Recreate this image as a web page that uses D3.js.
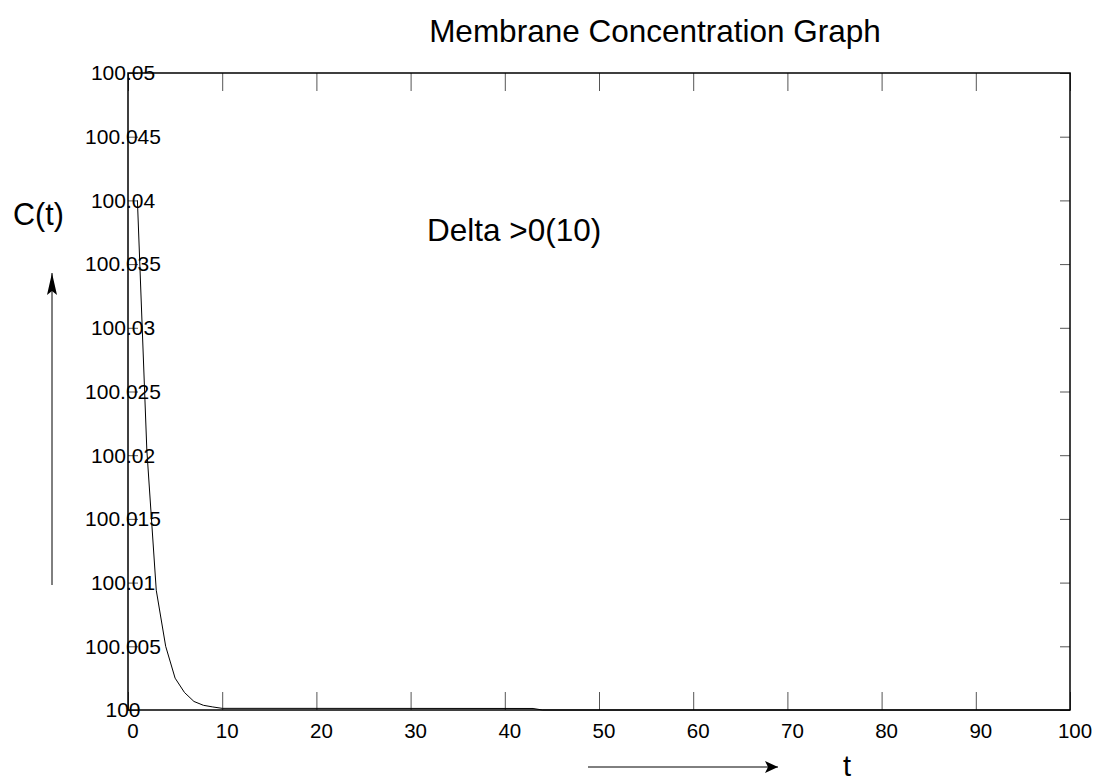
<!DOCTYPE html>
<html>
<head>
<meta charset="utf-8">
<script src="https://cdn.jsdelivr.net/npm/d3@7"></script>
<style>
  body { margin: 0; background: #fff; }
  text { font-family: "Liberation Sans", Arial, sans-serif; fill: #000; }
</style>
</head>
<body>
<div id="chart"></div>
<script>
// data
var timeValues = [1, 2, 3, 4, 5, 6, 7, 8, 9, 10, 43, 44, 100];
var concValues = [100.04, 100.0204, 100.0094, 100.005, 100.0025, 100.00137, 100.00067,
  100.00037, 100.00024, 100.00013, 100.00012, 100, 100];
var xTicks = [0, 10, 20, 30, 40, 50, 60, 70, 80, 90, 100];
var yTicks = [100, 100.005, 100.01, 100.015, 100.02, 100.025, 100.03, 100.035, 100.04, 100.045, 100.05];
var yTickLabels = ["100", "100.005", "100.01", "100.015", "100.02", "100.025", "100.03",
  "100.035", "100.04", "100.045", "100.05"];

var svgWidth = 1104;
var svgHeight = 783;

var margin = { top: 73, right: 34, bottom: 73, left: 128 };
var width = svgWidth - margin.left - margin.right;
var height = svgHeight - margin.top - margin.bottom;

var svg = d3.select("#chart")
  .append("svg")
  .attr("width", svgWidth)
  .attr("height", svgHeight);

// arrow heads for the axis hints
var defs = svg.append("defs");
defs.append("marker")
  .attr("id", "headRight")
  .attr("markerUnits", "userSpaceOnUse")
  .attr("markerWidth", 16).attr("markerHeight", 16)
  .attr("refX", 13).attr("refY", 7)
  .attr("orient", "auto")
  .append("path")
  .attr("d", "M0,1 L13,7 L0,13 L3,7 Z")
  .attr("fill", "#000");

defs.append("marker")
  .attr("id", "headUp")
  .attr("markerUnits", "userSpaceOnUse")
  .attr("markerWidth", 26).attr("markerHeight", 14)
  .attr("refX", 22).attr("refY", 6)
  .attr("orient", "auto")
  .append("path")
  .attr("d", "M0,1 L22,6 L0,11 L4,6 Z")
  .attr("fill", "#000");

var chartGroup = svg.append("g")
  .attr("transform", `translate(${margin.left}, ${margin.top})`);

var xScale = d3.scaleLinear().domain([0, 100]).range([0, width]);
var yScale = d3.scaleLinear().domain([100, 100.05]).range([height, 0]);

// inner ticks on all four sides
var tickColor = "#555";
chartGroup.append("g")
  .attr("transform", `translate(0, ${height})`)
  .call(d3.axisTop(xScale).tickValues(xTicks).tickSize(18).tickFormat(""))
  .call(g => g.select(".domain").remove())
  .call(g => g.selectAll("line").attr("stroke", tickColor));

chartGroup.append("g")
  .call(d3.axisBottom(xScale).tickValues(xTicks).tickSize(18).tickFormat(""))
  .call(g => g.select(".domain").remove())
  .call(g => g.selectAll("line").attr("stroke", tickColor));

chartGroup.append("g")
  .call(d3.axisRight(yScale).tickValues(yTicks).tickSize(10).tickFormat(""))
  .call(g => g.select(".domain").remove())
  .call(g => g.selectAll("line").attr("stroke", tickColor));

chartGroup.append("g")
  .attr("transform", `translate(${width}, 0)`)
  .call(d3.axisLeft(yScale).tickValues(yTicks).tickSize(10).tickFormat(""))
  .call(g => g.select(".domain").remove())
  .call(g => g.selectAll("line").attr("stroke", tickColor));

// tick labels
chartGroup.selectAll(".xlab")
  .data(xTicks)
  .enter()
  .append("text")
  .attr("class", "xlab")
  .attr("x", d => xScale(d) + 5)
  .attr("y", height + 21)
  .attr("dy", "0.35em")
  .attr("text-anchor", "middle")
  .attr("font-size", "20.5px")
  .text(d => d);

chartGroup.selectAll(".ylab")
  .data(yTicks)
  .enter()
  .append("text")
  .attr("class", "ylab")
  .attr("x", -5)
  .attr("y", d => yScale(d))
  .attr("dy", "0.35em")
  .attr("text-anchor", "middle")
  .attr("font-size", "21px")
  .text((d, i) => yTickLabels[i]);

// the curve
var points = timeValues.map((t, i) => [t, concValues[i]]);
var line = d3.line()
  .x(d => xScale(d[0]))
  .y(d => yScale(d[1]));

chartGroup.append("path")
  .datum(points)
  .attr("d", line)
  .attr("fill", "none")
  .attr("stroke", "#000")
  .attr("stroke-width", 1);

// frame
chartGroup.append("rect")
  .attr("width", width)
  .attr("height", height)
  .attr("fill", "none")
  .attr("stroke", "#000")
  .attr("stroke-width", 1.5);

// titles and notes
svg.append("text")
  .attr("x", 655)
  .attr("y", 42)
  .attr("text-anchor", "middle")
  .attr("font-size", "31.5px")
  .text("Membrane Concentration Graph");

svg.append("text")
  .attr("x", 427)
  .attr("y", 241)
  .attr("font-size", "31.5px")
  .text("Delta >0(10)");

svg.append("text")
  .attr("x", 13)
  .attr("y", 225)
  .attr("font-size", "30.5px")
  .text("C(t)");

svg.append("text")
  .attr("x", 847)
  .attr("y", 776)
  .attr("text-anchor", "middle")
  .attr("font-size", "29px")
  .text("t");

// axis hint arrows
svg.append("line")
  .attr("x1", 52).attr("y1", 585)
  .attr("x2", 52).attr("y2", 273)
  .attr("stroke", "#000")
  .attr("stroke-width", 1)
  .attr("marker-end", "url(#headUp)");

svg.append("line")
  .attr("x1", 588).attr("y1", 767)
  .attr("x2", 778).attr("y2", 767)
  .attr("stroke", "#000")
  .attr("stroke-width", 1)
  .attr("marker-end", "url(#headRight)");
</script>
</body>
</html>
